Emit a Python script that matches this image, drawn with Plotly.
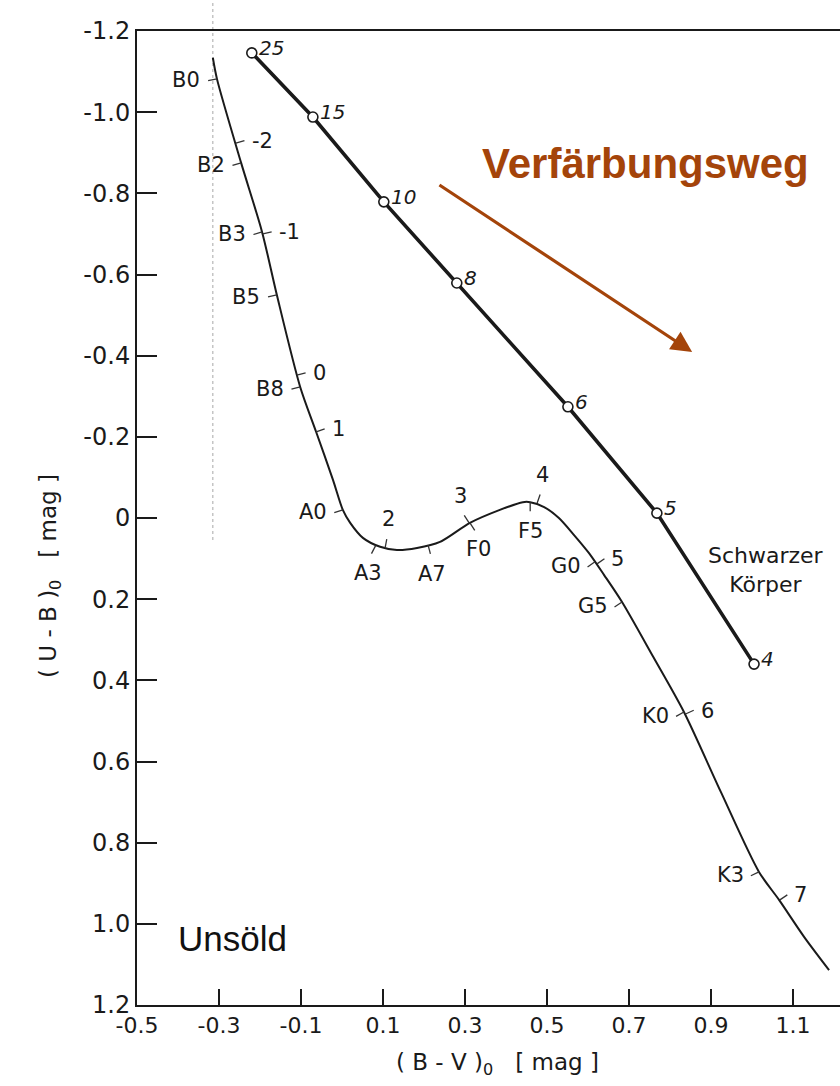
import numpy as np
import plotly.graph_objects as go

# Main sequence (luminosity class V): intrinsic colours (B-V)0, (U-B)0
ms_bv = [-0.315, -0.305, -0.246, -0.195, -0.159, -0.102, -0.063, -0.022, 0.002, 0.020,
         0.051, 0.093, 0.134, 0.183, 0.239, 0.312, 0.385, 0.441, 0.459, 0.493,
         0.529, 0.566, 0.602, 0.639, 0.683, 0.759, 0.834, 0.924, 1.017, 1.066,
         1.127, 1.188]
ms_ub = [-1.134, -1.082, -0.875, -0.705, -0.550, -0.323, -0.212, -0.094, -0.020, 0.012,
         0.049, 0.071, 0.079, 0.074, 0.059, 0.012, -0.020, -0.039, -0.039, -0.027,
         0.000, 0.042, 0.086, 0.140, 0.207, 0.342, 0.478, 0.675, 0.872, 0.941,
         1.032, 1.114]

# Spectral types marked along the main sequence
sp_types = ["B0", "B2", "B3", "B5", "B8", "A0", "A3", "A7", "F0", "F5", "G0", "G5", "K0", "K3"]
sp_bv = [-0.305, -0.246, -0.195, -0.159, -0.102, 0.002, 0.082, 0.210, 0.312, 0.459, 0.617, 0.683, 0.834, 1.017]
sp_ub = [-1.082, -0.875, -0.705, -0.550, -0.323, -0.020, 0.068, 0.067, 0.012, -0.039, 0.108, 0.207, 0.478, 0.872]

# Absolute visual magnitudes marked along the main sequence
mag_labels = ["-2", "-1", "0", "1", "2", "3", "4", "5", "6", "7"]
mag_bv = [-0.259, -0.193, -0.110, -0.063, 0.105, 0.310, 0.476, 0.622, 0.838, 1.068]
mag_ub = [-0.924, -0.700, -0.352, -0.212, 0.074, 0.012, -0.037, 0.113, 0.483, 0.941]

# Black body colours, temperature in 1000 K
bb_temp = ["25", "15", "10", "8", "6", "5", "4"]
bb_bv = [-0.220, -0.071, 0.102, 0.280, 0.551, 0.768, 1.005]
bb_ub = [-1.146, -0.988, -0.779, -0.579, -0.274, -0.012, 0.360]

# Reddening vector (tail, head)
redd_bv = [0.234, 0.854]
redd_ub = [-0.823, -0.409]

x_ticks = [-0.5, -0.3, -0.1, 0.1, 0.3, 0.5, 0.7, 0.9, 1.1]
y_ticks = [-1.2, -1.0, -0.8, -0.6, -0.4, -0.2, 0.0, 0.2, 0.4, 0.6, 0.8, 1.0, 1.2]

W, H = 840, 1086
ML, MR, MT, MB = 137, 0, 31, 81
PW, PH = W - ML - MR, H - MT - MB
X0 = -0.5
X1 = X0 + PW / 410.0
Y0, Y1 = -1.2, 1.2
SX = PW / (X1 - X0)
SY = PH / (Y1 - Y0)

FONT = "DejaVu Sans, Verdana, sans-serif"
HELV = "Liberation Sans, Arial, sans-serif"
INK = "#1a1a1a"
BROWN = "#A4440A"


def fmt(v):
    if abs(v) < 1e-9:
        return "0"
    return ("-" if v < 0 else "") + f"{abs(v):.1f}"


def to_px(bv, ub):
    return (np.asarray(bv) - X0) * SX, (np.asarray(ub) - Y0) * SY


def to_data(px, py):
    return X0 + px / SX, Y0 + py / SY


cx, cy = to_px(ms_bv, ms_ub)


def normal_at(bv, ub, side):
    """Unit normal (screen pixels, y down) of the main-sequence curve at a point."""
    qx, qy = to_px(bv, ub)
    best = None
    for i in range(len(cx) - 1):
        dx, dy = cx[i + 1] - cx[i], cy[i + 1] - cy[i]
        t = np.clip(((qx - cx[i]) * dx + (qy - cy[i]) * dy) / (dx * dx + dy * dy), 0, 1)
        d = np.hypot(cx[i] + t * dx - qx, cy[i] + t * dy - qy)
        if best is None or d < best[0]:
            best = (d, dx, dy)
    _, dx, dy = best
    n = np.hypot(dx, dy)
    dx, dy = dx / n, dy / n
    return (-dy, dx) if side == "right" else (dy, -dx)


TICK_LEN, GAP = 9, 7
tick_x, tick_y, annotations = [], [], []


def mark(labels, bvs, ubs, side):
    for lab, bv, ub in zip(labels, bvs, ubs):
        nx, ny = normal_at(bv, ub, side)
        qx, qy = to_px(bv, ub)
        ex, ey = to_data(qx + nx * TICK_LEN, qy + ny * TICK_LEN)
        tick_x.extend([bv, ex, None])
        tick_y.extend([ub, ey, None])
        dist = TICK_LEN + GAP
        if abs(nx) >= 0.6:
            xa = "right" if nx < 0 else "left"
            ya = "middle"
            xs, ys = nx * dist, -ny * dist * 0.5
        else:
            xa = "center"
            ya = "top" if ny > 0 else "bottom"
            xs, ys = nx * dist, -ny * dist
        annotations.append(dict(
            x=bv, y=ub, xref="x", yref="y", text=lab, showarrow=False,
            xshift=xs, yshift=ys, xanchor=xa, yanchor=ya,
            font=dict(family=FONT, size=21, color=INK), borderpad=0))


mark(sp_types, sp_bv, sp_ub, "right")
mark(mag_labels, mag_bv, mag_ub, "left")

fig = go.Figure()

fig.add_trace(go.Scatter(x=ms_bv, y=ms_ub, mode="lines",
                         line=dict(color=INK, width=2, shape="spline", smoothing=0.8),
                         hoverinfo="skip"))
fig.add_trace(go.Scatter(x=tick_x, y=tick_y, mode="lines",
                         line=dict(color="#333333", width=1.3), hoverinfo="skip"))
fig.add_trace(go.Scatter(x=bb_bv, y=bb_ub, mode="lines+markers",
                         line=dict(color=INK, width=3.6),
                         marker=dict(symbol="circle", size=10, color="white",
                                     line=dict(color=INK, width=1.6)),
                         hoverinfo="skip"))

for lab, bv, ub in zip(bb_temp, bb_bv, bb_ub):
    annotations.append(dict(
        x=bv, y=ub, xref="x", yref="y", text=f"<i>{lab}</i>", showarrow=False,
        xshift=6, yshift=5, xanchor="left", yanchor="middle",
        font=dict(family=FONT, size=20, color=INK), borderpad=0))

annotations.append(dict(
    x=redd_bv[1], y=redd_ub[1], ax=redd_bv[0], ay=redd_ub[0],
    xref="x", yref="y", axref="x", ayref="y", text="", showarrow=True,
    arrowhead=2, arrowsize=1.3, arrowwidth=3.2, arrowcolor=BROWN))

# free-standing texts, positioned in pixels of the page
page_texts = [
    dict(x=645, y=163, text="<b>Verfärbungsweg</b>",
         font=dict(family=HELV, size=42, color=BROWN)),
    dict(x=232, y=938, text="Unsöld",
         font=dict(family=HELV, size=35, color="#111111")),
    dict(x=766, y=570, text="Schwarzer<br>Körper",
         font=dict(family=FONT, size=22, color=INK)),
    dict(x=497, y=1064, text="( B - V )<sub>0</sub>   [ mag ]",
         font=dict(family=FONT, size=23, color=INK)),
    dict(x=50, y=576, text="( U - B )<sub>0</sub>   [ mag ]", textangle=-90,
         font=dict(family=FONT, size=23, color=INK)),
]
for a in page_texts:
    a.update(xref="paper", yref="paper", showarrow=False,
             xanchor="center", yanchor="middle",
             x=(a["x"] - ML) / PW, y=(H - MB - a["y"]) / PH)
    annotations.append(a)

fig.update_layout(
    width=W, height=H,
    margin=dict(l=ML, r=MR, t=MT, b=MB, pad=0),
    paper_bgcolor="white", plot_bgcolor="white",
    showlegend=False,
    annotations=annotations,
    shapes=[dict(type="line", xref="x", yref="paper", x0=-0.315, x1=-0.315,
                 y0=(H - MB - 540) / PH, y1=1 + MT / PH,
                 line=dict(color="rgba(0,0,0,0.35)", width=1, dash="dot"))],
    xaxis=dict(range=[X0, X1], tickvals=x_ticks, ticktext=[fmt(v) for v in x_ticks],
               ticks="inside", ticklen=16, tickwidth=1.5, tickcolor=INK,
               showline=True, linewidth=2, linecolor=INK, mirror=True,
               showgrid=False, zeroline=False,
               tickfont=dict(family=FONT, size=22, color=INK)),
    yaxis=dict(range=[Y1, Y0], tickvals=y_ticks, ticktext=[fmt(v) for v in y_ticks],
               ticks="inside", ticklen=20, tickwidth=1.5, tickcolor=INK,
               showline=True, linewidth=2, linecolor=INK, mirror=False,
               showgrid=False, zeroline=False,
               tickfont=dict(family=FONT, size=24, color=INK)),
)

fig.write_html("out.html")
